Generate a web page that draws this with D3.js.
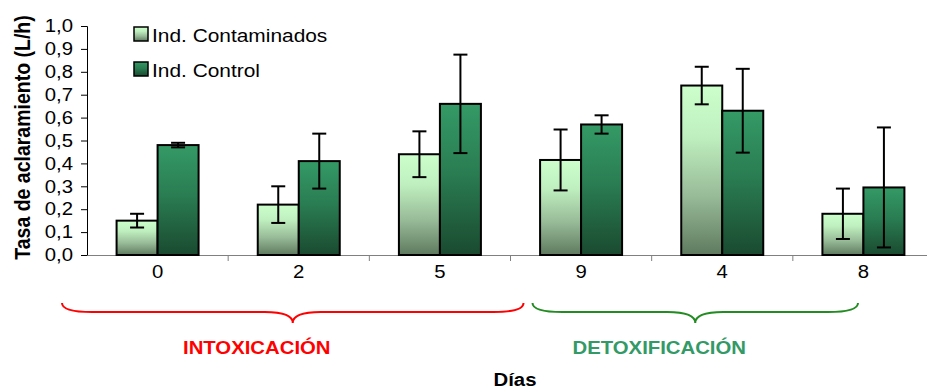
<!DOCTYPE html>
<html>
<head>
<meta charset="utf-8">
<script src="https://cdn.jsdelivr.net/npm/d3@7"></script>
<style>
  body { margin: 0; background: #fff; }
  text { font-family: Arial, 'Liberation Sans', sans-serif; }
</style>
</head>
<body>
<div id="graph"></div>
<script>
// Data
const days = ['0', '2', '5', '9', '4', '8']
const contaminados = [0.15, 0.22, 0.44, 0.415, 0.74, 0.18]
const contaminadosErr = [0.03, 0.08, 0.10, 0.133, 0.082, 0.11]
const control = [0.48, 0.41, 0.66, 0.57, 0.63, 0.295]
const controlErr = [0.01, 0.12, 0.215, 0.04, 0.183, 0.262]
const seriesNames = ['Ind. Contaminados', 'Ind. Control']
const yTicks = [0, 0.1, 0.2, 0.3, 0.4, 0.5, 0.6, 0.7, 0.8, 0.9, 1.0]
const phases = ['INTOXICACIÓN', 'DETOXIFICACIÓN']
const phaseFrom = ['0', '9']
const phaseTo = ['5', '8']
const phaseColors = ['#ff0000', '#228b22']
const phaseTextColors = ['#ff0000', '#339966']

// Layout
const total_width = 927
const total_height = 392
const margins = { top: 26, left: 87, right: -7, bottom: 137 }
const width = total_width - margins.left - margins.right
const height = total_height - margins.top - margins.bottom
const sx = 1.13 // the original chart is a bit stretched sideways
const bracePad = [[-25, 13], [22, -76]]

const svg = d3.select('#graph').append('svg')
  .attr('width', total_width)
  .attr('height', total_height)
  .style('display', 'block')

const defs = svg.append('defs')

function gradient(id, stops) {
  const lg = defs.append('linearGradient')
    .attr('id', id).attr('x1', 0).attr('y1', 0).attr('x2', 0).attr('y2', 1)
  stops.forEach(s => lg.append('stop').attr('offset', s[0]).attr('stop-color', s[1]))
}
gradient('gLight', [[0, '#ccffcc'], [0.3, '#bfefbf'], [0.65, '#98bb98'], [1, '#5f7a5f']])
gradient('gDark', [[0, '#349a66'], [0.45, '#2a7d52'], [1, '#1a4a30']])
const fills = ['url(#gLight)', 'url(#gDark)']

const g = svg.append('g')
  .attr('transform', `translate(${margins.left}, ${margins.top})`)

const x = d3.scaleBand().domain(days).range([0, width])
const bw = x.bandwidth()
const barW = 41
const x1 = d3.scaleBand().domain(seriesNames).range([bw / 2 - barW, bw / 2 + barW])
const y = d3.scaleLinear().domain([0, 1]).range([height, 0])

const rows = days.map((d, i) => ({
  day: d,
  vals: [
    { s: seriesNames[0], v: contaminados[i], e: contaminadosErr[i], k: 0 },
    { s: seriesNames[1], v: control[i], e: controlErr[i], k: 1 }
  ]
}))

// Y axis
const yAxis = g.append('g')
  .call(d3.axisLeft(y).tickValues(yTicks).tickSize(6).tickPadding(8)
    .tickFormat(d => d3.format('.1f')(d).replace('.', ',')))
yAxis.select('.domain').attr('stroke', '#000')
yAxis.selectAll('.tick line').attr('stroke', '#000')
yAxis.selectAll('.tick text')
  .attr('font-size', 18).attr('fill', '#000')
  .attr('x', -14 / sx)
  .attr('transform', `scale(${sx},1)`)

// X axis: labels centred, ticks on band boundaries
const xAxis = g.append('g')
  .attr('transform', `translate(0, ${height})`)
  .call(d3.axisBottom(x).tickSize(0).tickPadding(10))
xAxis.select('.domain').attr('stroke', '#808080')
xAxis.selectAll('.tick text')
  .attr('font-size', 18).attr('fill', '#000')
  .attr('transform', `scale(${sx},1)`)

xAxis.selectAll('.sep')
  .data(days.slice(1))
  .enter().append('line')
  .attr('class', 'sep')
  .attr('x1', d => x(d)).attr('x2', d => x(d))
  .attr('y1', 0).attr('y2', 6)
  .attr('stroke', '#808080')

// Bars
const groups = g.selectAll('.grp')
  .data(rows)
  .enter().append('g')
  .attr('class', 'grp')
  .attr('transform', d => `translate(${x(d.day)}, 0)`)

groups.selectAll('rect')
  .data(d => d.vals)
  .enter().append('rect')
  .attr('x', d => x1(d.s))
  .attr('y', d => y(d.v))
  .attr('width', x1.bandwidth())
  .attr('height', d => y(0) - y(d.v))
  .attr('fill', d => fills[d.k])
  .attr('stroke', '#000')
  .attr('stroke-width', 2)

// Error bars
const cap = 7
const err = groups.selectAll('.err')
  .data(d => d.vals)
  .enter().append('g')
  .attr('class', 'err')
  .attr('stroke', '#000')
  .attr('stroke-width', 2)
err.append('line')
  .attr('x1', d => x1(d.s) + barW / 2).attr('x2', d => x1(d.s) + barW / 2)
  .attr('y1', d => y(d.v + d.e)).attr('y2', d => y(d.v - d.e))
err.append('line')
  .attr('x1', d => x1(d.s) + barW / 2 - cap).attr('x2', d => x1(d.s) + barW / 2 + cap)
  .attr('y1', d => y(d.v + d.e)).attr('y2', d => y(d.v + d.e))
err.append('line')
  .attr('x1', d => x1(d.s) + barW / 2 - cap).attr('x2', d => x1(d.s) + barW / 2 + cap)
  .attr('y1', d => y(d.v - d.e)).attr('y2', d => y(d.v - d.e))

// Y title
svg.append('text')
  .attr('transform', `translate(30, ${margins.top + height / 2 - 3}) rotate(-90) scale(1, ${sx})`)
  .attr('text-anchor', 'middle')
  .attr('font-size', 19.5)
  .attr('font-weight', 'bold')
  .text('Tasa de aclaramiento (L/h)')

// Legend
const legend = svg.append('g')
  .selectAll('g')
  .data(seriesNames)
  .enter().append('g')
  .attr('transform', (d, i) => `translate(134, ${27 + i * 35})`)
legend.append('rect')
  .attr('width', 14).attr('height', 14)
  .attr('fill', (d, i) => fills[i])
  .attr('stroke', '#000').attr('stroke-width', 1.5)
legend.append('text')
  .attr('transform', `translate(18, 15) scale(${sx},1)`)
  .attr('font-size', 18.5)
  .text(d => d)

// Braces and phase labels under the axis
const braceTop = margins.top + height + 48
phases.forEach((p, i) => {
  const x0 = margins.left + x(phaseFrom[i]) + bracePad[i][0]
  const x2 = margins.left + x(phaseTo[i]) + bw + bracePad[i][1]
  const mid = (x0 + x2) / 2
  const yl = braceTop + 9
  const yp = braceTop + 20
  svg.append('path')
    .attr('d', `M${x0},${braceTop} Q${x0},${yl} ${x0 + 30},${yl} L${mid - 28},${yl} Q${mid},${yl} ${mid},${yp} Q${mid},${yl} ${mid + 28},${yl} L${x2 - 30},${yl} Q${x2},${yl} ${x2},${braceTop}`)
    .attr('fill', 'none')
    .attr('stroke', phaseColors[i])
    .attr('stroke-width', 2)
  svg.append('text')
    .attr('transform', `translate(${mid - 36}, ${braceTop + 51}) scale(${sx},1)`)
    .attr('text-anchor', 'middle')
    .attr('font-size', 18)
    .attr('font-weight', 'bold')
    .attr('fill', phaseTextColors[i])
    .text(p)
})

// X title
svg.append('text')
  .attr('transform', `translate(515, 386) scale(${sx},1)`)
  .attr('text-anchor', 'middle')
  .attr('font-size', 18)
  .attr('font-weight', 'bold')
  .text('Días')
</script>
</body>
</html>
